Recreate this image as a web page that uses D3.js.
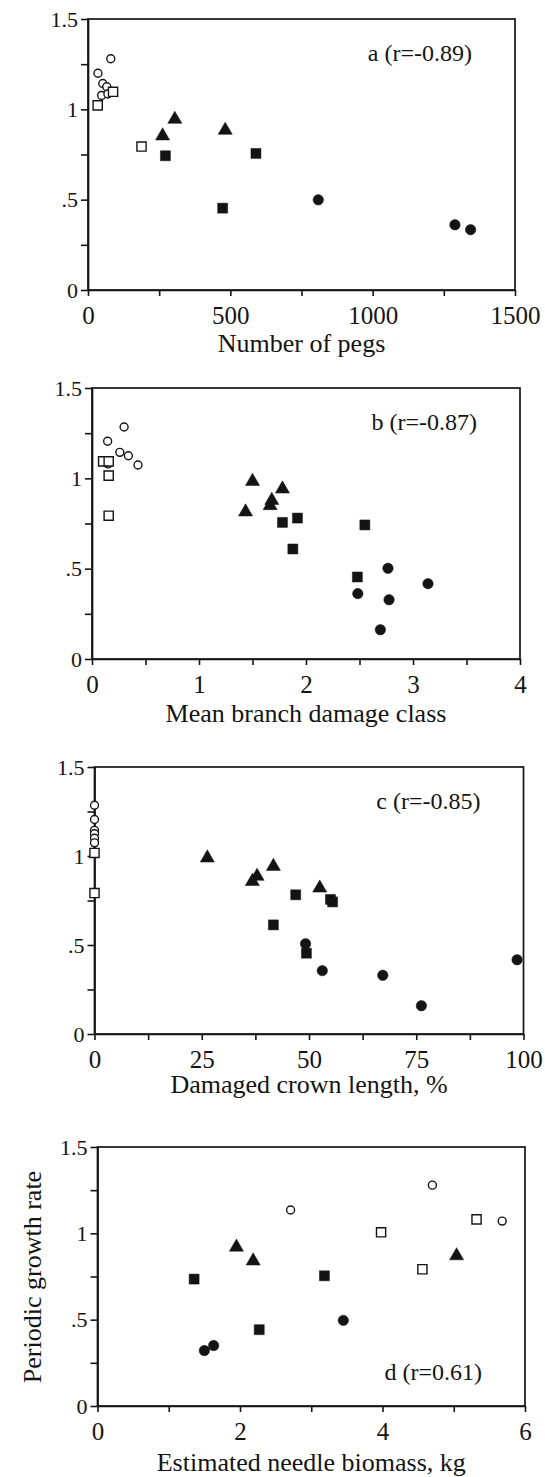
<!doctype html><html><head><style>body{margin:0;background:#fff}</style></head><body>
<script src="https://d3js.org/d3.v7.min.js"></script>
<script>
// groups: oc = open circle, os = open square, tri = filled triangle, fs = filled square, fc = filled circle
const pegsData = [
  {x: 35, y: 1.20, g: "oc"}, {x: 80, y: 1.28, g: "oc"}, {x: 52, y: 1.143, g: "oc"},
  {x: 66, y: 1.125, g: "oc"}, {x: 48, y: 1.077, g: "oc"}, {x: 70, y: 1.085, g: "oc"},
  {x: 34, y: 1.022, g: "os"}, {x: 88, y: 1.097, g: "os"}, {x: 188, y: 0.794, g: "os"},
  {x: 262, y: 0.853, g: "tri"}, {x: 305, y: 0.945, g: "tri"}, {x: 482, y: 0.884, g: "tri"},
  {x: 272, y: 0.743, g: "fs"}, {x: 590, y: 0.756, g: "fs"}, {x: 473, y: 0.453, g: "fs"},
  {x: 809, y: 0.499, g: "fc"}, {x: 1289, y: 0.361, g: "fc"}, {x: 1344, y: 0.334, g: "fc"}
];
const branchData = [
  {x: 0.146, y: 1.205, g: "oc"}, {x: 0.30, y: 1.284, g: "oc"}, {x: 0.26, y: 1.144, g: "oc"},
  {x: 0.34, y: 1.125, g: "oc"}, {x: 0.43, y: 1.074, g: "oc"}, {x: 0.15, y: 1.08, g: "oc"},
  {x: 0.104, y: 1.094, g: "os"}, {x: 0.156, y: 1.094, g: "os"}, {x: 0.156, y: 1.015, g: "os"}, {x: 0.156, y: 0.793, g: "os"},
  {x: 1.50, y: 0.983, g: "tri"}, {x: 1.435, y: 0.814, g: "tri"}, {x: 1.68, y: 0.878, g: "tri"},
  {x: 1.665, y: 0.849, g: "tri"}, {x: 1.78, y: 0.941, g: "tri"},
  {x: 1.78, y: 0.756, g: "fs"}, {x: 1.92, y: 0.780, g: "fs"}, {x: 1.877, y: 0.609, g: "fs"},
  {x: 2.55, y: 0.742, g: "fs"}, {x: 2.48, y: 0.454, g: "fs"},
  {x: 2.484, y: 0.362, g: "fc"}, {x: 2.766, y: 0.502, g: "fc"}, {x: 2.776, y: 0.328, g: "fc"},
  {x: 2.695, y: 0.162, g: "fc"}, {x: 3.14, y: 0.417, g: "fc"}
];
const crownData = [
  {x: 0, y: 1.017, g: "os"}, {x: 0, y: 0.792, g: "os"},
  {x: 0, y: 1.285, g: "oc"}, {x: 0, y: 1.205, g: "oc"}, {x: 0, y: 1.144, g: "oc"},
  {x: 0, y: 1.125, g: "oc"}, {x: 0, y: 1.10, g: "oc"}, {x: 0, y: 1.074, g: "oc"},
  {x: 26.3, y: 0.989, g: "tri"}, {x: 36.8, y: 0.857, g: "tri"}, {x: 37.9, y: 0.886, g: "tri"},
  {x: 41.7, y: 0.942, g: "tri"}, {x: 52.5, y: 0.82, g: "tri"},
  {x: 46.9, y: 0.782, g: "fs"}, {x: 41.7, y: 0.613, g: "fs"}, {x: 55.0, y: 0.756, g: "fs"},
  {x: 55.5, y: 0.742, g: "fs"}, {x: 49.4, y: 0.454, g: "fs"},
  {x: 49.2, y: 0.507, g: "fc"}, {x: 53.1, y: 0.356, g: "fc"}, {x: 67.2, y: 0.33, g: "fc"},
  {x: 76.2, y: 0.159, g: "fc"}, {x: 98.5, y: 0.417, g: "fc"}
];
const biomassData = [
  {x: 2.71, y: 1.135, g: "oc"}, {x: 4.70, y: 1.279, g: "oc"}, {x: 5.68, y: 1.071, g: "oc"},
  {x: 3.98, y: 1.006, g: "os"}, {x: 4.56, y: 0.792, g: "os"}, {x: 5.32, y: 1.081, g: "os"},
  {x: 1.95, y: 0.92, g: "tri"}, {x: 2.185, y: 0.84, g: "tri"}, {x: 5.04, y: 0.87, g: "tri"},
  {x: 1.356, y: 0.735, g: "fs"}, {x: 2.27, y: 0.442, g: "fs"}, {x: 3.185, y: 0.754, g: "fs"},
  {x: 1.50, y: 0.321, g: "fc"}, {x: 1.63, y: 0.35, g: "fc"}, {x: 3.45, y: 0.496, g: "fc"}
];

const yTickValues = [0, 0.25, 0.5, 0.75, 1, 1.25, 1.5];
const yTickText   = ["0", "", ".5", "", "1", "", "1.5"];
const pegsTicks    = [0, 250, 500, 750, 1000, 1250, 1500];
const pegsText     = ["0", "", "500", "", "1000", "", "1500"];
const branchTicks  = [0, 0.5, 1, 1.5, 2, 2.5, 3, 3.5, 4];
const branchText   = ["0", "", "1", "", "2", "", "3", "", "4"];
const crownTicks   = [0, 12.5, 25, 37.5, 50, 62.5, 75, 87.5, 100];
const crownText    = ["0", "", "25", "", "50", "", "75", "", "100"];
const biomassTicks = [0, 1, 2, 3, 4, 5, 6];
const biomassText  = ["0", "", "2", "", "4", "", "6"];

const font = "'Liberation Serif', 'DejaVu Serif', serif";
const ink = "#141414";

const svg = d3.select("body").append("svg")
  .attr("width", 545).attr("height", 1477)
  .style("background", "#fff");

const panels = [
  {data: pegsData, xMax: 1500, ticks: pegsTicks, text: pegsText, title: "Number of pegs", r: "a (r=-0.89)",
   left: 88, right: 515, top: 19, bottom: 290, titleY: 352, rTop: true},
  {data: branchData, xMax: 4, ticks: branchTicks, text: branchText, title: "Mean branch damage class", r: "b (r=-0.87)",
   left: 92, right: 520, top: 388, bottom: 659, titleY: 722, rTop: true},
  {data: crownData, xMax: 100, ticks: crownTicks, text: crownText, title: "Damaged crown length, %", r: "c (r=-0.85)",
   left: 94.5, right: 523.5, top: 767, bottom: 1034, titleY: 1093, rTop: true},
  {data: biomassData, xMax: 6, ticks: biomassTicks, text: biomassText, title: "Estimated needle biomass, kg", r: "d (r=0.61)",
   left: 97.5, right: 525, top: 1147, bottom: 1406, titleY: 1471, rTop: false}
];

const symbols = {
  oc:  {type: d3.symbolCircle,   size: 50,  fill: "#fff"},
  os:  {type: d3.symbolSquare,   size: 84,  fill: "#fff"},
  tri: {type: d3.symbolTriangle, size: 86,  fill: ink},
  fs:  {type: d3.symbolSquare,   size: 100, fill: ink},
  fc:  {type: d3.symbolCircle,   size: 86,  fill: ink}
};

panels.forEach(p => {
  const x = d3.scaleLinear().domain([0, p.xMax]).range([p.left, p.right]);
  const y = d3.scaleLinear().domain([0, 1.5]).range([p.bottom, p.top]);
  const g = svg.append("g");

  g.append("rect")
    .attr("x", p.left).attr("y", p.top)
    .attr("width", p.right - p.left).attr("height", p.bottom - p.top)
    .attr("fill", "none").attr("stroke", ink).attr("stroke-width", 1.7);

  const ya = g.append("g")
    .attr("transform", `translate(${p.left},0)`)
    .call(d3.axisLeft(y).tickValues(yTickValues)
      .tickFormat((d, i) => yTickText[i]).tickSize(7).tickSizeOuter(0).tickPadding(3));
  ya.attr("font-family", font).attr("font-size", 22);

  const xa = g.append("g")
    .attr("transform", `translate(0,${p.bottom})`)
    .call(d3.axisBottom(x).tickValues(p.ticks)
      .tickFormat((d, i) => p.text[i]).tickSize(6).tickSizeOuter(0).tickPadding(10));
  xa.attr("font-family", font).attr("font-size", 25);

  [ya, xa].forEach(a => {
    a.select(".domain").attr("stroke", ink).attr("stroke-width", 1.7);
    a.selectAll(".tick line").attr("stroke", ink).attr("stroke-width", 1.6);
    a.selectAll(".tick text").attr("fill", ink);
  });

  g.selectAll("path.pt")
    .data(p.data)
    .join("path")
    .attr("class", "pt")
    .attr("transform", d => `translate(${x(d.x)},${y(d.y)})`)
    .attr("d", d => d3.symbol().type(symbols[d.g].type).size(symbols[d.g].size)())
    .attr("fill", d => symbols[d.g].fill)
    .attr("stroke", ink)
    .attr("stroke-width", d => (d.g === "oc" || d.g === "os") ? 1.4 : 0.5);

  g.append("text")
    .attr("x", p.right - 43)
    .attr("y", p.rTop ? p.top + 42 : p.bottom - 26)
    .attr("text-anchor", "end")
    .attr("font-family", font).attr("font-size", 24).attr("fill", ink)
    .text(p.r);

  g.append("text")
    .attr("x", (p.left + p.right) / 2)
    .attr("y", p.titleY)
    .attr("text-anchor", "middle")
    .attr("font-family", font).attr("font-size", 26).attr("fill", ink)
    .text(p.title);
});

svg.append("text")
  .attr("transform", "translate(41,1277) rotate(-90)")
  .attr("text-anchor", "middle")
  .attr("font-family", font).attr("font-size", 26).attr("fill", ink)
  .text("Periodic growth rate");
</script></body></html>
